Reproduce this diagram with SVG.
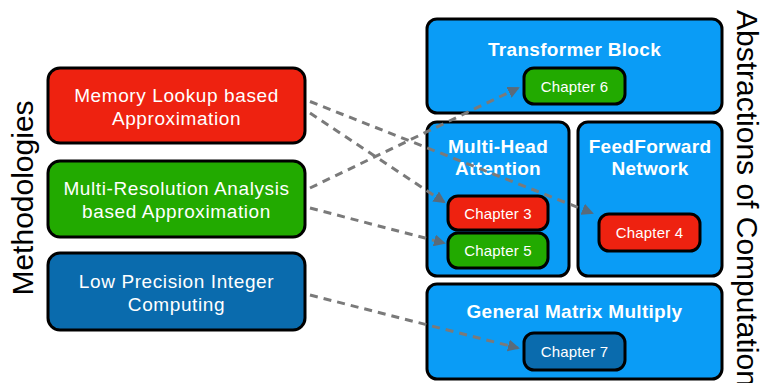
<svg xmlns="http://www.w3.org/2000/svg" width="761" height="383" viewBox="0 0 761 383">
  <defs>
    <style>
      .box { stroke: #000; stroke-width: 3; }
      .red { fill: #EE2210; }
      .green { fill: #22AA00; }
      .dark { fill: #0A6BAD; }
      .light { fill: #0A9CF6; }
      .method { font-family: "Liberation Sans", Arial, sans-serif; font-size: 19px; fill: #fff; text-anchor: middle; letter-spacing: 0.6px; }
      .title { font-family: "Liberation Sans", Arial, sans-serif; font-size: 19px; font-weight: bold; fill: #fff; text-anchor: middle; letter-spacing: 0.3px; }
      .chap { font-family: "Liberation Sans", Arial, sans-serif; font-size: 15px; fill: #fff; text-anchor: middle; letter-spacing: 0.2px; }
      .axis { font-family: "Liberation Sans", Arial, sans-serif; font-size: 30px; fill: #000; }
      .link { fill: none; stroke: #7A7A7A; stroke-width: 3; stroke-dasharray: 8 6; marker-end: url(#head); }
    </style>
    <marker id="head" viewBox="0 0 12 12" refX="10" refY="6" markerWidth="12" markerHeight="12" markerUnits="userSpaceOnUse" orient="auto">
      <path d="M0,0 L12,6 L0,12 Z" fill="#5A6B7A"/>
    </marker>
  </defs>

  <!-- axis labels -->
  <text class="axis" transform="translate(33,198) rotate(-90)" text-anchor="middle">Methodologies</text>
  <text class="axis" transform="translate(737,10) rotate(90)">Abstractions of Computation</text>

  <!-- methodologies -->
  <g id="memory-lookup">
    <rect class="box red" x="48" y="68" width="257" height="75" rx="12"/>
    <text class="method" x="176.5" y="102">Memory Lookup based</text>
    <text class="method" x="176.5" y="125">Approximation</text>
  </g>
  <g id="multi-resolution">
    <rect class="box green" x="48" y="161" width="257" height="76" rx="12"/>
    <text class="method" x="176.5" y="195">Multi-Resolution Analysis</text>
    <text class="method" x="176.5" y="218">based Approximation</text>
  </g>
  <g id="low-precision">
    <rect class="box dark" x="48" y="253" width="257" height="77" rx="12"/>
    <text class="method" x="176.5" y="288">Low Precision Integer</text>
    <text class="method" x="176.5" y="311">Computing</text>
  </g>

  <!-- abstractions -->
  <g id="transformer-block">
    <rect class="box light" x="427" y="19" width="295" height="94" rx="10"/>
    <text class="title" x="574.5" y="56">Transformer Block</text>
  </g>
  <g id="multi-head-attention">
    <rect class="box light" x="427" y="122" width="142" height="154" rx="10"/>
    <text class="title" x="498" y="153">Multi-Head</text>
    <text class="title" x="498" y="175">Attention</text>
  </g>
  <g id="feedforward-network">
    <rect class="box light" x="578" y="122" width="144" height="154" rx="10"/>
    <text class="title" x="650" y="153">FeedForward</text>
    <text class="title" x="650" y="175">Network</text>
  </g>
  <g id="gemm">
    <rect class="box light" x="427" y="284" width="295" height="95" rx="10"/>
    <text class="title" x="574.5" y="318">General Matrix Multiply</text>
  </g>

  <!-- chapters -->
  <g id="chapter-6">
    <rect class="box green" x="524" y="68" width="101" height="36" rx="10"/>
    <text class="chap" x="574.5" y="91.5">Chapter 6</text>
  </g>
  <g id="chapter-3">
    <rect class="box red" x="448" y="196" width="100" height="34" rx="10"/>
    <text class="chap" x="498" y="218.5">Chapter 3</text>
  </g>
  <g id="chapter-5">
    <rect class="box green" x="448" y="233" width="100" height="35" rx="10"/>
    <text class="chap" x="498" y="255.5">Chapter 5</text>
  </g>
  <g id="chapter-4">
    <rect class="box red" x="599" y="214" width="101" height="37" rx="10"/>
    <text class="chap" x="649.5" y="237.5">Chapter 4</text>
  </g>
  <g id="chapter-7">
    <rect class="box dark" x="524" y="333" width="101" height="37" rx="10"/>
    <text class="chap" x="574.5" y="356.5">Chapter 7</text>
  </g>

  <!-- connectors -->
  <g id="connectors">
    <line class="link" x1="310" y1="101.5" x2="592" y2="213"/>
    <line class="link" x1="310" y1="113" x2="444" y2="202"/>
    <line class="link" x1="310" y1="188" x2="518" y2="88"/>
    <line class="link" x1="310" y1="208" x2="444" y2="243"/>
    <line class="link" x1="310" y1="295" x2="518" y2="348"/>
  </g>
</svg>
